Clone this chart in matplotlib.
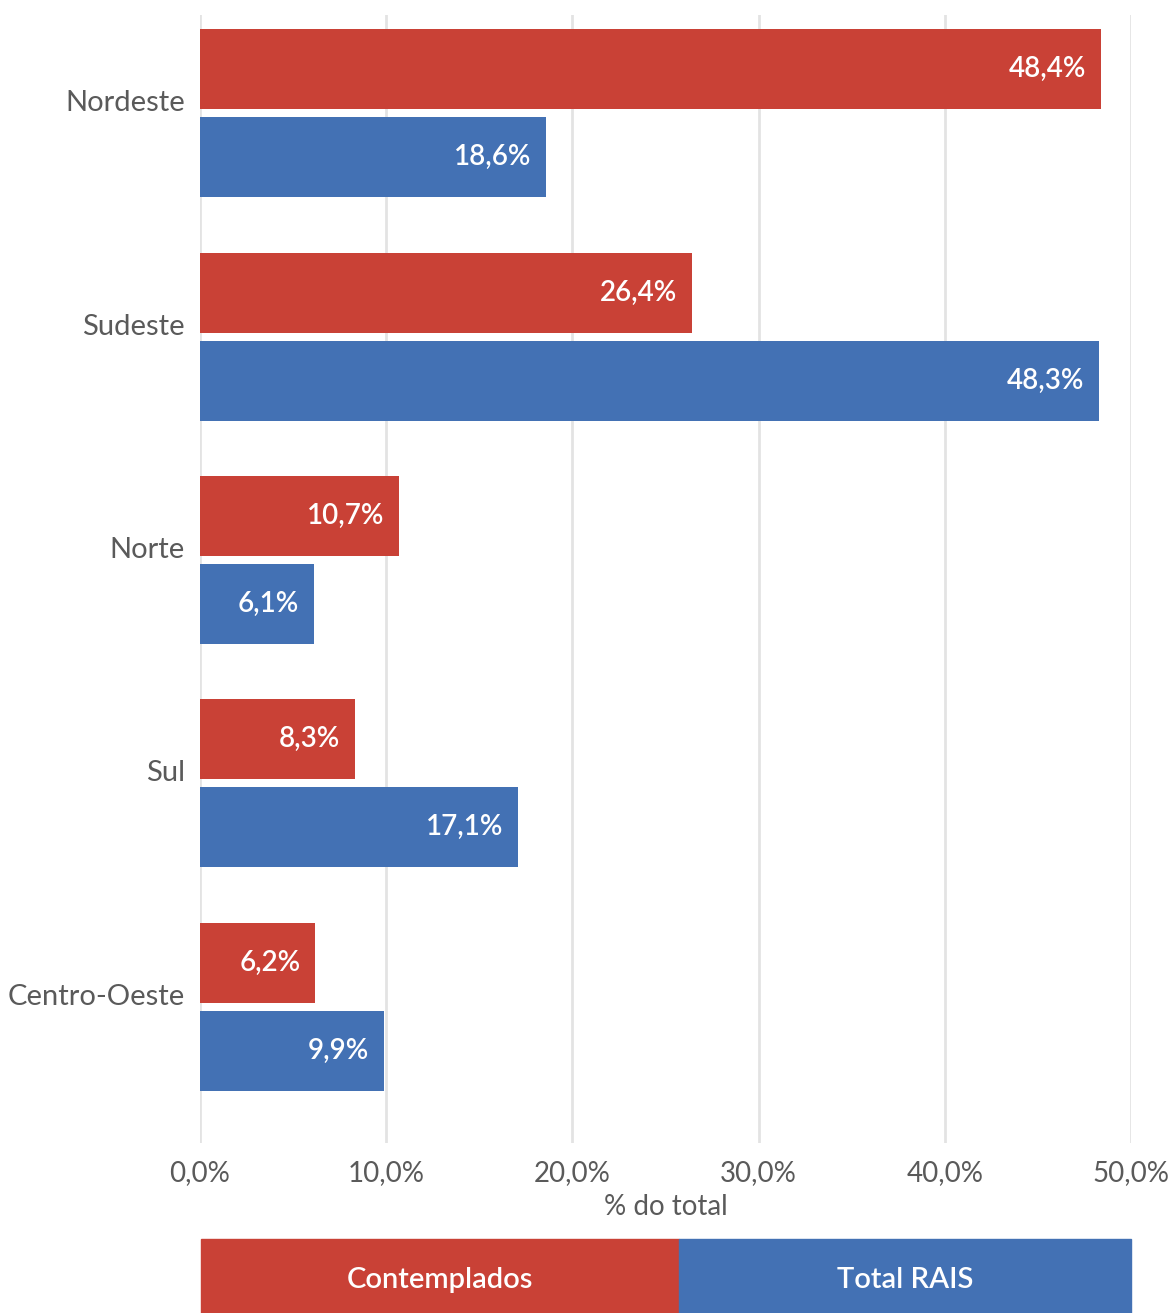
import matplotlib.pyplot as plt
from matplotlib.patches import Rectangle

regioes = ['Nordeste', 'Sudeste', 'Norte', 'Sul', 'Centro-Oeste']
contemplados = [48.4, 26.4, 10.7, 8.3, 6.2]
total_rais = [18.6, 48.3, 6.1, 17.1, 9.9]
x_ticks = [0, 10, 20, 30, 40, 50]

red = '#C94136'
blue = '#4371B4'
grey = '#5a5a5a'

plt.rcParams['font.family'] = ['Lato', 'DejaVu Sans']

fig = plt.figure(figsize=(11.74, 13.13), dpi=100)
ax = fig.add_axes([200 / 1174, 1 - 1143 / 1313, 931 / 1174, 1128 / 1313])

pos = list(range(len(regioes)))
h = 0.358
off = 0.197
ax.barh([p - off for p in pos], contemplados, height=h, color=red, zorder=2)
ax.barh([p + off for p in pos], total_rais, height=h, color=blue, zorder=2)

for p, v in zip(pos, contemplados):
    ax.text(v - 0.8, p - off, f'{v:.1f}%'.replace('.', ','), ha='right', va='center',
            color='white', fontsize=20, fontweight='semibold', zorder=3)
for p, v in zip(pos, total_rais):
    ax.text(v - 0.8, p + off, f'{v:.1f}%'.replace('.', ','), ha='right', va='center',
            color='white', fontsize=20, fontweight='semibold', zorder=3)

ax.set_xlim(0, 50)
ax.set_ylim(4.61, -0.44)

# category labels sit a little above the group centre
ax.set_yticks([])
for p, nome in zip(pos, regioes):
    ax.text(-15 / 931, p - 0.045, nome, transform=ax.get_yaxis_transform(),
            ha='right', va='center', fontsize=21, color=grey)

ax.set_xticks(x_ticks)
ax.set_xticklabels([f'{t:.1f}%'.replace('.', ',') for t in x_ticks], fontsize=20,
                   color=grey)
ax.set_xlabel('% do total', fontsize=20, color=grey, labelpad=6)
ax.tick_params(length=0, pad=12)
ax.grid(axis='x', color='#e3e3e3', linewidth=2, zorder=0)
for s in ax.spines.values():
    s.set_visible(False)

# legend as two coloured blocks
lax = fig.add_axes([0, 0, 1, 1])
lax.set_xlim(0, 1174)
lax.set_ylim(1313, 0)
lax.axis('off')
lax.add_patch(Rectangle((201, 1239), 478, 74, color=red))
lax.add_patch(Rectangle((679, 1239), 452, 74, color=blue))
lax.text(440, 1280, 'Contemplados', ha='center', va='center', color='white',
         fontsize=21, fontweight='semibold')
lax.text(905, 1280, 'Total RAIS', ha='center', va='center', color='white',
         fontsize=21, fontweight='semibold')

fig.savefig('out.png', dpi=100)
